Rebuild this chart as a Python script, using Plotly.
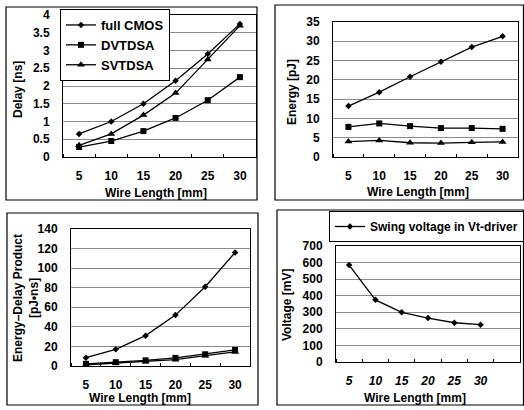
import plotly.graph_objects as go

W, H = 524, 410

wire_length = [5, 10, 15, 20, 25, 30]
x_ticks = ["5", "10", "15", "20", "25", "30"]

delay_full_cmos = [0.65, 1.0, 1.5, 2.15, 2.9, 3.75]
delay_dvtdsa = [0.28, 0.45, 0.73, 1.1, 1.6, 2.25]
delay_svtdsa = [0.33, 0.65, 1.18, 1.8, 2.75, 3.7]

energy_full_cmos = [13.2, 16.8, 20.8, 24.7, 28.5, 31.3]
energy_dvtdsa = [7.8, 8.7, 8.0, 7.5, 7.5, 7.3]
energy_svtdsa = [4.0, 4.3, 3.7, 3.6, 3.8, 3.9]

edp_full_cmos = [8.5, 17, 31, 52, 81, 116]
edp_dvtdsa = [2.2, 3.9, 5.8, 8.3, 12, 16.4]
edp_svtdsa = [1.3, 2.8, 4.4, 6.5, 10.5, 14.4]

swing_voltage = [585, 375, 300, 265, 237, 225]

series_names = ["full CMOS", "DVTDSA", "SVTDSA"]
FONT = "Liberation Sans, Arial, sans-serif"

def px(x):
    return x / W

def py(y):
    return 1 - y / H

fig = go.Figure()

markers = [dict(symbol="diamond", size=5), dict(symbol="square", size=6), dict(symbol="triangle-up", size=7)]

panels = [
    ("x", "y", [delay_full_cmos, delay_dvtdsa, delay_svtdsa], True),
    ("x2", "y2", [energy_full_cmos, energy_dvtdsa, energy_svtdsa], False),
    ("x3", "y3", [edp_full_cmos, edp_dvtdsa, edp_svtdsa], False),
]
for xa, ya, data, show in panels:
    for name, vals, m in zip(series_names, data, markers):
        fig.add_trace(go.Scatter(
            x=wire_length, y=vals, name=name, xaxis=xa, yaxis=ya,
            mode="lines+markers", showlegend=show, legend="legend",
            line=dict(color="black", width=1.3),
            marker=dict(color="black", **m)))

fig.add_trace(go.Scatter(
    x=wire_length, y=swing_voltage, name="Swing voltage in Vt-driver",
    xaxis="x4", yaxis="y4", mode="lines+markers", legend="legend2",
    line=dict(color="black", width=1.3),
    marker=dict(color="black", symbol="diamond", size=5)))

tickfont = dict(family=FONT, size=12, color="black", weight="bold")

def xaxis(l, r, rng, italic=False):
    tf = dict(tickfont)
    if italic:
        tf["style"] = "italic"
    return dict(domain=[px(l), px(r)], range=rng, tickvals=wire_length, ticktext=x_ticks,
                showline=True, mirror=True, linecolor="black", linewidth=1,
                showgrid=False, zeroline=False, ticks="", ticklen=0, tickfont=tf,
                ticklabelstandoff=8, automargin=False,
                minor=dict(tick0=2.5, dtick=5, ticks="inside", ticklen=3, tickcolor="black", showgrid=False))

def yaxis(t, b, rng, dtick, anchor):
    return dict(domain=[py(b), py(t)], range=rng, dtick=dtick, anchor=anchor,
                showline=True, mirror=True, linecolor="black", linewidth=1,
                showgrid=True, gridcolor="#8a8a8a", gridwidth=1, zeroline=False,
                ticks="", ticklen=0, tickfont=tickfont, ticklabelstandoff=10, automargin=False)

fig.update_layout(
    width=W, height=H, margin=dict(l=0, r=0, t=0, b=0, autoexpand=False),
    paper_bgcolor="white", plot_bgcolor="white",
    xaxis=dict(xaxis(63, 256, [2.5, 32.5]), anchor="y"),
    yaxis=yaxis(15, 157, [0, 4], 0.5, "x"),
    xaxis2=dict(xaxis(333, 518, [2.5, 32.5]), anchor="y2"),
    yaxis2=yaxis(22, 157, [0, 35], 5, "x2"),
    xaxis3=dict(xaxis(71, 250, [2.5, 32.5]), anchor="y3"),
    yaxis3=yaxis(229, 366, [0, 140], 20, "x3"),
    xaxis4=dict(xaxis(336, 520, [2.5, 37.5], italic=True), anchor="y4"),
    yaxis4=yaxis(246, 362, [0, 700], 100, "x4"),
    legend=dict(x=px(60), y=py(9), xanchor="left", yanchor="top",
                bgcolor="white", bordercolor="black", borderwidth=1,
                font=dict(family=FONT, size=13, color="black", weight="bold"),
                tracegroupgap=0, itemwidth=30),
    legend2=dict(x=px(329), y=py(211), xanchor="left", yanchor="top",
                 bgcolor="white", bordercolor="black", borderwidth=1,
                 font=dict(family=FONT, size=12, color="black", weight="bold"),
                 itemwidth=30),
)

# panel frames
for x0, y0, x1, y1 in [(6, 7, 257, 200), (275, 5, 523.5, 200), (7, 213, 258, 405), (277, 210, 523.5, 405)]:
    fig.add_shape(type="rect", xref="paper", yref="paper", x0=px(x0), x1=px(x1), y0=py(y1), y1=py(y0),
                  line=dict(color="black", width=1.2), layer="below")

title_font = dict(family=FONT, size=12, color="black", weight="bold")
annos = [
    ("Wire Length [mm]", 156, 193, 0),
    ("Wire Length [mm]", 418, 192, 0),
    ("Wire Length [mm]", 140, 398, 0),
    ("Wire Length [mm]", 415, 398, 0),
    ("Delay [ns]", 18, 90, -90),
    ("Energy [pJ]", 292, 92, -90),
    ("Energy\u2013Delay Product<br>[pJ\u2022ns]", 26, 298, -90),
    ("Voltage [mV]", 287, 305, -90),
]
for text, x, y, ang in annos:
    fig.add_annotation(text=text, x=px(x), y=py(y), xref="paper", yref="paper",
                       showarrow=False, textangle=ang, font=title_font,
                       xanchor="center", yanchor="middle")

fig.write_html("out.html", config={"displayModeBar": False},
               post_script="document.body.style.margin='0';")
